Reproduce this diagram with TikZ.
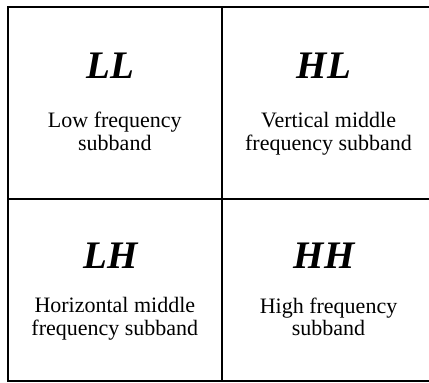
\documentclass[tikz,border=0pt]{standalone}
\usepackage{fontspec}
\setmainfont{Liberation Serif}
\usepackage{tikz}
\usetikzlibrary{positioning}
\tikzset{
  band/.style={rectangle, draw=black, line width=2pt, outer sep=0pt,
               inner sep=0pt, minimum width=213.7pt},
  tag/.style={inner sep=0pt, outer sep=0pt, text height=27pt,
              text depth=0pt, xshift=-4.5pt,
              font=\fontsize{39}{39}\selectfont\bfseries\itshape},
  desc/.style={inner sep=0pt, outer sep=0pt, align=center,
               font=\fontsize{22}{22.5}\selectfont},
}

\begin{document}
\begin{tikzpicture}[x=1pt, y=1pt]
  \useasboundingbox (0,0) rectangle (429,383);
  \clip (0,0) rectangle (429,383);
  \node[band, minimum height=191.7pt] (ll) at (114.85,280.15) {};
  \node[band, minimum height=191.7pt] (hl) at (328.55,280.15) {};
  \node[band, minimum height=182pt]   (lh) at (114.85,93.3)   {};
  \node[band, minimum height=182pt]   (hh) at (328.55,93.3)   {};
  \node[tag,  below=44.3pt of ll.north]  (lltag)  {LL};
  \node[desc, below=105.3pt of ll.north] (lldesc) {Low frequency\\subband};
  \node[tag,  below=44.3pt of hl.north]  (hltag)  {HL};
  \node[desc, below=105.3pt of hl.north] (hldesc) {Vertical middle\\frequency subband};
  \node[tag,  below=42.6pt of lh.north]  (lhtag)  {LH};
  \node[desc, below=99pt of lh.north]    (lhdesc) {Horizontal middle\\frequency subband};
  \node[tag,  below=42.6pt of hh.north]  (hhtag)  {HH};
  \node[desc, below=99pt of hh.north]    (hhdesc) {High frequency\\subband};
\end{tikzpicture}
\end{document}
